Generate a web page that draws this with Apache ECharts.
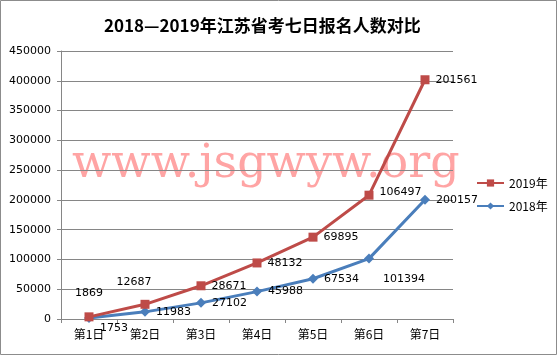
<!DOCTYPE html>
<html>
<head>
<meta charset="utf-8">
<script src="https://cdn.jsdelivr.net/npm/echarts@6/dist/echarts.min.js"></script>
<style>
  html, body { margin: 0; padding: 0; background: #fff; }
  #chart { width: 557px; height: 355px; }
</style>
</head>
<body>
<div id="chart"></div>
<script>
// 数据
const days = ['第1日', '第2日', '第3日', '第4日', '第5日', '第6日', '第7日'];
const data2018 = [1753, 11983, 27102, 45988, 67534, 101394, 200157];
const data2019 = [1869, 12687, 28671, 48132, 69895, 106497, 201561];
const yTicks = [0, 50000, 450000];

// 各点标签位置（按原图微调）
const pos2019 = [
    { position: 'top', distance: 14 },
    { position: 'top', distance: 12, offset: [-11, 0] },
    'right', 'right', 'right',
    { position: 'right', offset: [0, -3] },
    'right'
];
const pos2018 = [
    { position: 'right', offset: [0, 10] },
    'right', 'right', 'right', 'right',
    { position: 'right', offset: [3, 21] },
    'right'
];

const labelFont = { fontFamily: 'DejaVu Sans', fontSize: 11, color: '#000' };

function withLabels(values, positions) {
    return values.map((v, i) => {
        const p = typeof positions[i] === 'string' ? { position: positions[i] } : positions[i];
        return { value: v, label: Object.assign({ show: true, distance: 6 }, labelFont, p) };
    });
}

const myChart = echarts.init(document.getElementById('chart'));
myChart.setOption({
    animation: false,
    title: {
        text: '2018—2019年江苏省考七日报名人数对比',
        left: 99,
        top: 12,
        textStyle: {
            fontFamily: 'Noto Sans CJK SC',
            fontSize: 17,
            fontWeight: 'bold',
            color: '#000'
        }
    },
    graphic: [
        {
            type: 'rect',
            shape: { x: 0.5, y: 0.5, width: 556, height: 354 },
            style: { fill: 'none', stroke: '#8c8c8c', lineWidth: 1 },
            silent: true,
            z: 100
        },
        {
            type: 'text',
            left: 72,
            top: 142,
            z: -10,
            silent: true,
            style: {
                text: 'www.jsgwyw.org',
                font: '46px "DejaVu Serif"',
                fill: 'rgba(255, 90, 90, 0.55)'
            }
        }
    ],
    legend: {
        orient: 'vertical',
        left: 471,
        top: 172,
        itemWidth: 27,
        itemHeight: 9,
        itemGap: 11,
        textStyle: { fontFamily: 'Noto Sans CJK SC', fontSize: 12, color: '#000' },
        data: ['2019年', '2018年']
    },
    grid: { left: 61, right: 104, top: 51, bottom: 36 },
    xAxis: {
        type: 'category',
        data: days,
        boundaryGap: true,
        axisLine: { lineStyle: { color: '#868686' } },
        axisTick: { show: true, alignWithLabel: false, length: 4, lineStyle: { color: '#868686' } },
        axisLabel: { fontFamily: 'Noto Sans CJK SC', fontSize: 12, color: '#000', margin: 9 }
    },
    yAxis: {
        type: 'value',
        min: yTicks[0],
        max: yTicks[2],
        interval: yTicks[1],
        axisLine: { show: true, lineStyle: { color: '#868686' } },
        axisTick: { show: true, length: 4, lineStyle: { color: '#868686' } },
        splitLine: { lineStyle: { color: '#868686' } },
        axisLabel: {
            fontFamily: 'DejaVu Sans',
            fontSize: 11,
            color: '#000',
            margin: 10,
            formatter: (v) => String(v)
        }
    },
    series: [
        {
            name: '2018年',
            type: 'line',
            stack: 'total',
            symbol: 'diamond',
            symbolSize: 10,
            color: '#4a7ebb',
            lineStyle: { width: 3, color: '#4a7ebb' },
            itemStyle: { color: '#4a7ebb' },
            data: withLabels(data2018, pos2018),
            z: 3
        },
        {
            name: '2019年',
            type: 'line',
            stack: 'total',
            symbol: 'rect',
            symbolSize: 9,
            color: '#be4b48',
            lineStyle: { width: 3, color: '#be4b48' },
            itemStyle: { color: '#be4b48' },
            data: withLabels(data2019, pos2019),
            z: 4
        }
    ]
});
</script>
</body>
</html>
